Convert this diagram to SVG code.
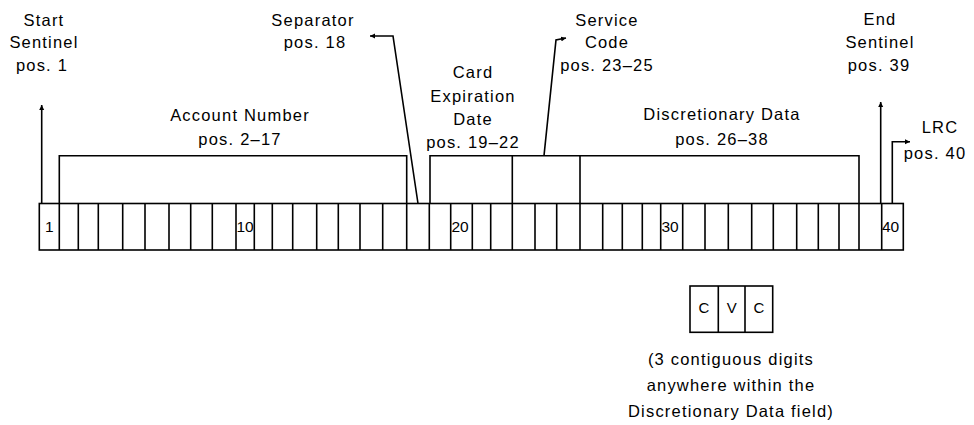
<svg xmlns="http://www.w3.org/2000/svg" width="974" height="425" viewBox="0 0 974 425">
<defs>
<marker id="ah" markerWidth="6" markerHeight="6" refX="5" refY="3" orient="auto" markerUnits="userSpaceOnUse">
<path d="M0,0.5 L5,3 L0,5.5 Z" fill="#000"/>
</marker>
<style>
.t{font-family:"Liberation Sans",Arial,sans-serif;font-size:16.5px;letter-spacing:1.2px;fill:#000;text-anchor:middle}
.n{font-family:"Liberation Sans",Arial,sans-serif;font-size:15.5px;fill:#000}
.ln{fill:none;stroke:#000;stroke-width:1.6}
.c{fill:#fff;stroke:#000;stroke-width:1.6}
</style>
</defs>
<rect width="974" height="425" fill="#fff"/>

<g id="strip">
<rect class="c" x="39.3" y="203.5" width="864" height="46.5"/>
<path class="ln" d="M59.3,203.5V250M78.3,203.5V250M98.3,203.5V250M122.7,203.5V250M145,203.5V250M169,203.5V250M190.7,203.5V250M212.3,203.5V250M236,203.5V250M254.3,203.5V250M272.3,203.5V250M292.7,203.5V250M316.7,203.5V250M338.3,203.5V250M360,203.5V250M382.7,203.5V250M406.7,203.5V250M429.3,203.5V250M450.7,203.5V250M472.3,203.5V250M490.7,203.5V250M512.3,203.5V250M535,203.5V250M556.7,203.5V250M580,203.5V250M602.7,203.5V250M622.3,203.5V250M642.3,203.5V250M660.7,203.5V250M682.7,203.5V250M705,203.5V250M728.3,203.5V250M751.7,203.5V250M773.3,203.5V250M796.7,203.5V250M818.3,203.5V250M839,203.5V250M859,203.5V250M881.7,203.5V250"/>
<text class="n" x="45" y="232">1</text>
<text class="n" x="236.5" y="232">10</text>
<text class="n" x="451.5" y="232">20</text>
<text class="n" x="661.5" y="232">30</text>
<text class="n" x="882" y="232">40</text>
</g>

<g id="account-number">
<path class="ln" d="M59.3,203.5V155.7H406.7V203.5"/>
<text class="t" x="240" y="121">Account Number</text>
<text class="t" x="240" y="145">pos. 2–17</text>
</g>

<g id="card-expiration">
<path class="ln" d="M430,203.5V155.7H512.3V203.5"/>
<text class="t" x="473" y="78">Card</text>
<text class="t" x="473" y="102">Expiration</text>
<text class="t" x="473" y="125">Date</text>
<text class="t" x="473" y="148">pos. 19–22</text>
</g>

<g id="service-code">
<path class="ln" d="M512.3,155.7H580V203.5"/>
<text class="t" x="607" y="26">Service</text>
<text class="t" x="607" y="48">Code</text>
<text class="t" x="607" y="71">pos. 23–25</text>
</g>

<g id="discretionary-data">
<path class="ln" d="M580,155.7H859V203.5"/>
<text class="t" x="722" y="120">Discretionary Data</text>
<text class="t" x="722" y="145">pos. 26–38</text>
</g>

<g id="start-sentinel">
<text class="t" x="44" y="26">Start</text>
<text class="t" x="44" y="48">Sentinel</text>
<text class="t" x="42" y="71">pos. 1</text>
</g>

<g id="separator">
<text class="t" x="313" y="26">Separator</text>
<text class="t" x="315" y="48">pos. 18</text>
</g>

<g id="end-sentinel">
<text class="t" x="880" y="25">End</text>
<text class="t" x="880" y="48">Sentinel</text>
<text class="t" x="879" y="71">pos. 39</text>
</g>

<g id="lrc">
<text class="t" x="940" y="133">LRC</text>
<text class="t" x="935" y="159">pos. 40</text>
</g>

<g id="cvc">
<rect class="c" x="690" y="286" width="82.7" height="46.3"/>
<path class="ln" d="M718.3,286V332.3M745,286V332.3"/>
<text class="t" x="704" y="313" style="font-size:15px;letter-spacing:0">C</text>
<text class="t" x="731.7" y="313" style="font-size:15px;letter-spacing:0">V</text>
<text class="t" x="759" y="313" style="font-size:15px;letter-spacing:0">C</text>
<text class="t" x="731" y="365">(3 contiguous digits</text>
<text class="t" x="731" y="391">anywhere within the</text>
<text class="t" x="731" y="417">Discretionary Data field)</text>
</g>

<g id="connectors">
<path class="ln" d="M41.7,203.5V105" marker-end="url(#ah)"/>
<path class="ln" d="M418,203.5L393,36H370" marker-end="url(#ah)"/>
<path class="ln" d="M544,155.7L556,40L566,38" marker-end="url(#ah)"/>
<path class="ln" d="M880.7,203.5V102" marker-end="url(#ah)"/>
<path class="ln" d="M892.3,203.5V141.7H910" marker-end="url(#ah)"/>
</g>
</svg>
